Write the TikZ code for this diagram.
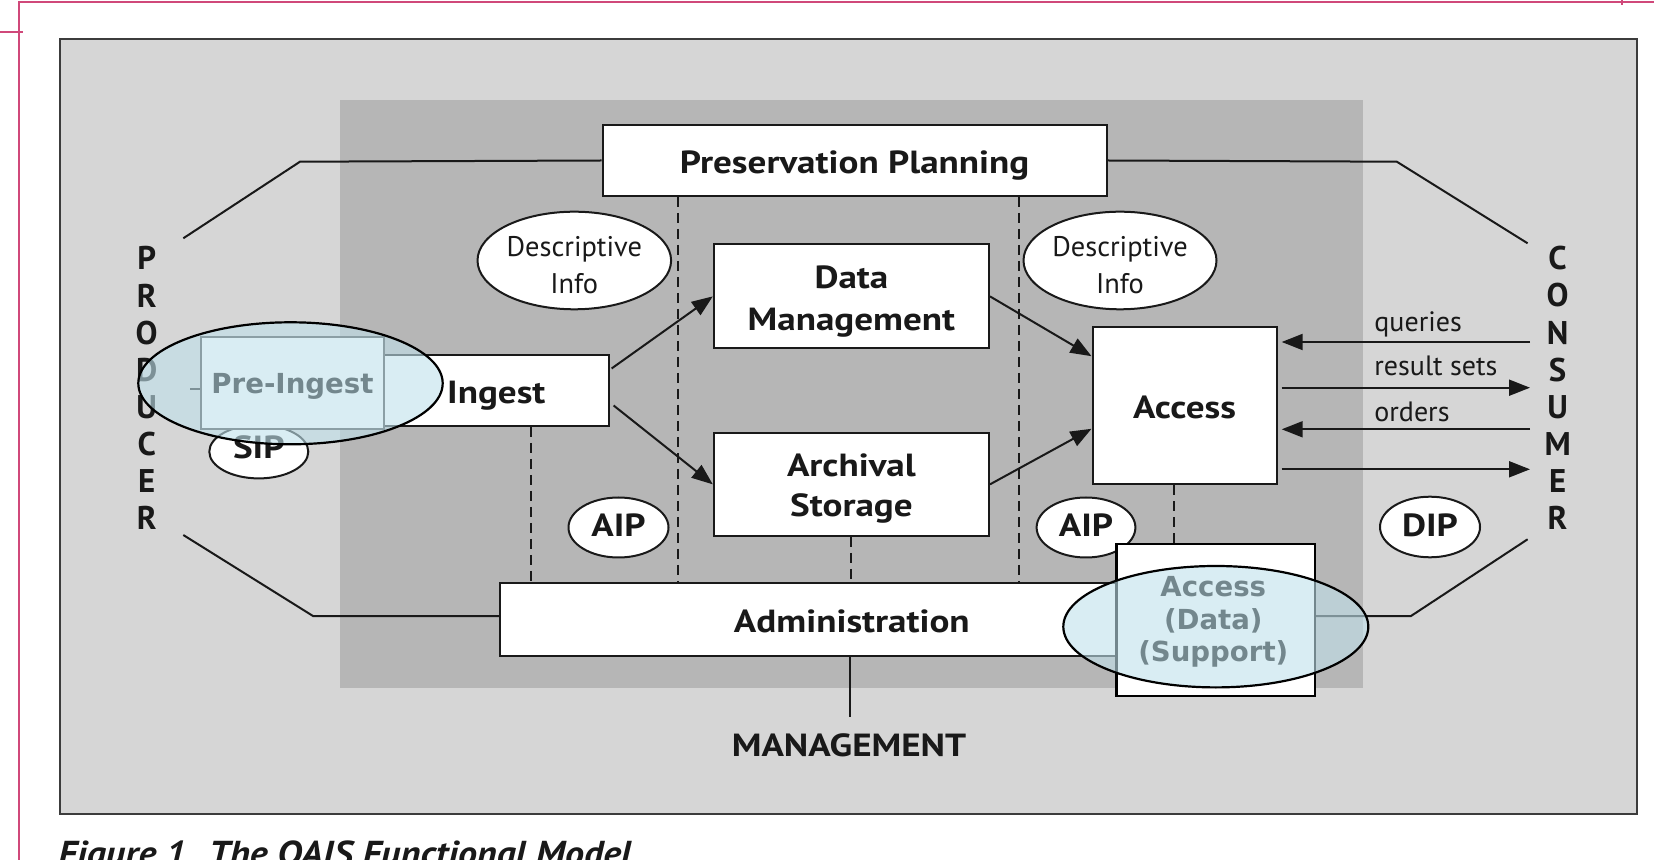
\documentclass[tikz,border=0pt]{standalone}
\usepackage{fontspec}
\setmainfont{PT Sans}
\newfontfamily\widefont{PT Sans}[FakeStretch=1.16]
\newfontfamily\capfont{PT Sans}[FakeStretch=1.1]
\newfontfamily\dvfont{DejaVu Sans}
\usetikzlibrary{arrows.meta,shapes.geometric,calc}
\definecolor{outerfill}{RGB}{214,214,214}
\definecolor{outerline}{RGB}{60,60,60}
\definecolor{innerfill}{RGB}{182,182,182}
\definecolor{pinkline}{RGB}{208,72,122}
\definecolor{overlayblue}{RGB}{192,225,235}
\definecolor{ink}{RGB}{25,25,25}
\begin{document}
\begin{tikzpicture}[x=0.5pt,y=-0.5pt,
  box/.style={draw=ink,line width=1pt,fill=white,rectangle,inner sep=0pt},
  ell/.style={draw=ink,line width=1pt,fill=white,ellipse,inner sep=0pt},
  btxt/.style={font=\widefont\fontsize{16}{18}\selectfont\bfseries,text=ink,inner sep=0pt,anchor=base},
  rtxt/.style={font=\fontsize{14.2}{17}\selectfont,text=ink,inner sep=0pt,anchor=base},
  stxt/.style={font=\fontsize{14}{16}\selectfont,text=ink,inner sep=0pt,anchor=base west},
  ltr/.style={font=\fontsize{16.4}{18}\selectfont\bfseries,text=ink,inner sep=0pt},
  flow/.style={draw=ink,line width=1pt,-{Triangle[length=10.5pt,width=8pt]}},
  conn/.style={draw=ink,line width=1pt},
  dashln/.style={draw=ink,line width=1pt,dash pattern=on 5pt off 3pt},
  ovl/.style={ellipse,draw=black,line width=1.1pt,fill=overlayblue,fill opacity=0.6,inner sep=0pt},
  ovtxt/.style={font=\dvfont\fontsize{13.8}{16.2}\selectfont\bfseries,text=black,inner sep=0pt,align=center},
  capt/.style={font=\capfont\fontsize{17.3}{20}\selectfont\bfseries\itshape,text=ink,inner sep=0pt,anchor=base west}
]
\useasboundingbox (0,0) rectangle (1654,860);
\clip (0,0) rectangle (1654,860);
\fill[white] (0,0) rectangle (1654,860);
% page marks
\draw[pinkline,line width=0.8pt] (18,2) -- (1654,2);
\draw[pinkline,line width=0.8pt] (19,2) -- (19,860);
\draw[pinkline,line width=0.8pt] (0,32) -- (23,32);
\draw[pinkline,line width=0.8pt] (1621.7,0) -- (1621.7,5);
% backgrounds
\path[draw=outerline,line width=1.2pt,fill=outerfill] (60,39) rectangle (1637,814);
\fill[innerfill] (340,100) rectangle (1363,688);
% caption (cut by page edge, as in the reference)
\node[capt] (cap) at (58,865) {Figure 1. The OAIS Functional Model};

% boxes
\node[box,minimum width=251.95pt,minimum height=35.5pt] (pp) at (854.65,160.5) {};
\node[box,minimum width=137.6pt,minimum height=51.9pt] (dm) at (851.4,296.4) {};
\node[box,minimum width=137.6pt,minimum height=51.65pt] (as) at (851.4,484.35) {};
\node[box,minimum width=112.3pt,minimum height=35.5pt] (ingest) at (496.3,390.5) {};
\node[box,minimum width=92.1pt,minimum height=78.8pt] (access) at (1184.6,405.5) {};
\node[box,minimum width=352pt,minimum height=36.35pt] (admin) at (852,619.65) {};

% coordinates for connector corners and free ends
\coordinate (ppL) at (300,161.7);
\coordinate (prodT) at (183.3,238.3);
\coordinate (ppR) at (1396.8,161.7);
\coordinate (consT) at (1527.6,243.3);
\coordinate (adL) at (313,616);
\coordinate (prodB) at (183.3,535);
\coordinate (adR) at (1411,616);
\coordinate (consB) at (1527.6,539.3);
\coordinate (dx1) at (678.4,0);
\coordinate (dx2) at (1018.5,0);
\coordinate (dx3) at (531,0);
\coordinate (dx5) at (1174,0);
\coordinate (mgTop) at (850,716.7);
\coordinate (cq) at (1530,342);
\coordinate (cr) at (1530,387.7);
\coordinate (co) at (1530,429.3);
\coordinate (cd) at (1530,469.3);

% outer connectors
\draw[conn] (pp.west) -- (ppL) -- (prodT);
\draw[conn] (pp.east) -- (ppR) -- (consT);
\draw[conn] ($(admin.west)+(0,-3.6)$) -- (adL) -- (prodB);
\draw[conn] ($(admin.east)+(0,-3.6)$) -- (adR) -- (consB);
\draw[conn] (admin.south -| mgTop) -- (mgTop);

% dashed links
\draw[dashln] (pp.south -| dx1) -- (admin.north -| dx1);
\draw[dashln] (pp.south -| dx2) -- (admin.north -| dx2);
\draw[dashln] (ingest.south -| dx3) -- (admin.north -| dx3);
\draw[dashln] (as.south) -- (as.south |- admin.north);

% flows
\draw[flow] ($(ingest.east)+(2,-22)$) -- (dm.west);
\draw[flow] ($(ingest.east)+(4,15)$) -- (as.west);
\draw[flow] (dm.east) -- ($(access.north west)+(0,30.5)$);
\draw[flow] (as.east) -- ($(access.south west)+(0,-56.5)$);
\draw[flow] (cq) -- ($(access.east |- cq)+(4,0)$);
\draw[flow] ($(access.east |- cr)+(4,0)$) -- (cr);
\draw[flow] (co) -- ($(access.east |- co)+(4,0)$);
\draw[flow] ($(access.east |- cd)+(4,0)$) -- (cd);

% ellipses
\node[ell,minimum width=96.8pt,minimum height=48.8pt] (di1) at (574.3,260.5) {};
\node[ell,minimum width=96.5pt,minimum height=48.8pt] (di2) at (1120,260.5) {};
\node[ell,minimum width=50pt,minimum height=30pt] (aip1) at (618.5,527.5) {};
\node[ell,minimum width=49.4pt,minimum height=30pt] (aip2) at (1086,527.5) {};
\node[ell,minimum width=49.5pt,minimum height=26.7pt] (sip) at (258.8,451.7) {};
\node[ell,minimum width=50pt,minimum height=30.3pt] (dip) at (1430,527) {};

% texts
\node[btxt] (ppT) at (854.6,173.3) {Preservation Planning};
\node[btxt] (dmT1) at (851.4,288.7) {Data};
\node[btxt] (dmT2) at (851.4,330.7) {Management};
\node[btxt] (asT1) at (851.4,476.7) {Archival};
\node[btxt] (asT2) at (851.4,516.7) {Storage};
\node[btxt] (ingT) at (496.3,404) {Ingest};
\node[btxt] (accT) at (1184.6,418.3) {Access};
\node[btxt] (admT) at (851.8,632.7) {Administration};
\node[btxt] (mgT) at (849,756) {MANAGEMENT};
\node[btxt] (aip1T) at (618.5,536.7) {AIP};
\node[btxt] (aip2T) at (1086,536.7) {AIP};
\node[btxt] (sipT) at (258.8,458.3) {SIP};
\node[btxt] (dipT) at (1430,536.7) {DIP};
\node[rtxt] (di1a) at (574.3,256.7) {Descriptive};
\node[rtxt] (di1b) at (574.3,293.3) {Info};
\node[rtxt] (di2a) at (1120,256.7) {Descriptive};
\node[rtxt] (di2b) at (1120,293.3) {Info};
\node[stxt] (qT) at (1374,331.7) {queries};
\node[stxt] (rT) at (1374,376) {result sets};
\node[stxt] (oT) at (1374,421.7) {orders};

% PRODUCER / CONSUMER
\foreach \l [count=\i from 0] in {P,R,O,D,U,C,E,R}
  \node[ltr] (prod\i) at (146.7,258.3+37.14*\i) {\l};
\foreach \l [count=\i from 0] in {C,O,N,S,U,M,E,R}
  \node[ltr] (cons\i) at (1557.6,258.3+37.14*\i) {\l};

% overlay: Pre-Ingest
\node[box,minimum width=91.5pt,minimum height=45.85pt,draw=ink!85] (pre) at (292.5,383.15) {};
\draw[conn] (190,389) -- (pre.west |- 0,389);
\node[ovtxt] (preT) at (292.5,386.5) {Pre-Ingest};
% overlay: Access (Data) (Support)
\draw[dashln] (access.south -| dx5) -- (1174,544);
\node[box,minimum width=99.15pt,minimum height=76pt,draw=black,line width=1.3pt] (asup) at (1215.85,620) {};
\node[ovtxt] (asupT) at (1213.3,622) {Access\\(Data)\\(Support)};
\node[ovl,minimum width=152.2pt,minimum height=61pt] (ov1) at (290.5,383.3) {};
\node[ovl,minimum width=152.5pt,minimum height=60.7pt] (ov2) at (1215.8,626.7) {};
\end{tikzpicture}
\end{document}
